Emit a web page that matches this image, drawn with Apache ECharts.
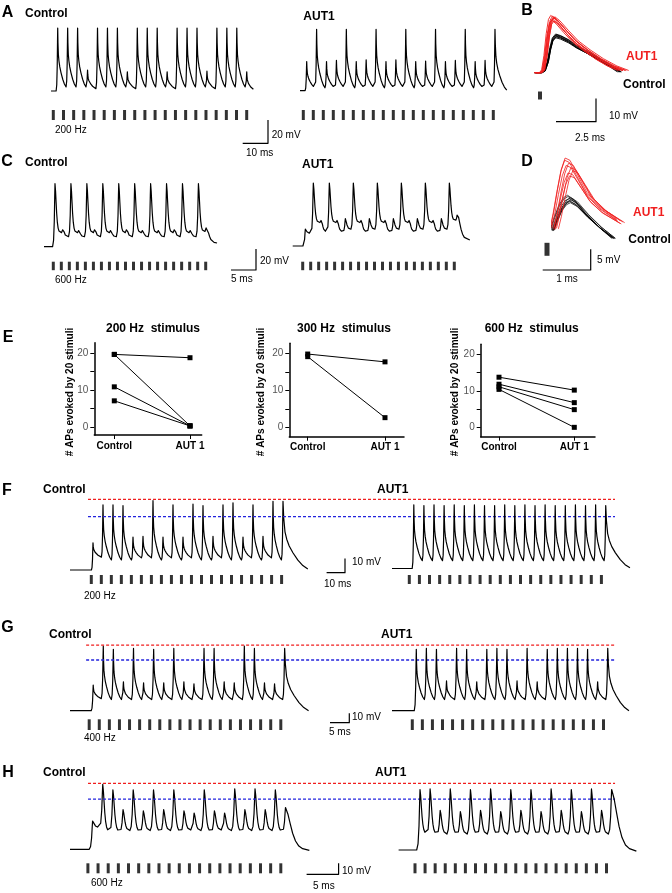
<!DOCTYPE html>
<html><head><meta charset="utf-8">
<script src="https://cdn.jsdelivr.net/npm/echarts@6/dist/echarts.min.js"></script>
<style>html,body{margin:0;padding:0;background:#fff}#c{width:672px;height:893px}</style>
</head><body><div id="c"></div>
<script>
// ================= DATA =================
const STIM_IDX = [0,1,2,3,4,5,6,7,8,9,10,11,12,13,14,15,16,17,18,19];

// timing arrays: [first peak (ms), period (ms), rise (ms), end (ms), end voltage (mV)]
const A_CTRL_TIME = [3.37, 5, 0.8, 101.7, 1.5];
const A_AUT_TIME  = [3.38, 5, 0.8, 104.3, 0.5];
const A_CTRL_PEAKS   = [54,54,54,18, 54,54,54,16.5, 54,54,54,16.5, 54,54,54,17, 54,54,54,16.5];
const A_CTRL_TROUGHS = [3.5,3.5,3.5,2, 3.5,3.5,3.5,2, 3.5,3.5,3.5,2, 3.5,3.5,3.5,2, 3.5,3.5,3.5,2];
const A_AUT_PEAKS    = [25,52.7,25,26, 52.7,25,26.5,52.7, 25,26.5,52.7,25, 25.5,52.7,25,26, 52.7,25,26,52.7];
const A_AUT_TROUGHS  = [2.5,2.5,2.5,2.5,2.5,2.5,2.5,2.5,2.5,2.5,2.5,2.5,2.5,2.5,2.5,2.5,2.5,2.5,2.5,2.5];

// Panel B single responses (time ms, fraction of peak)
const B_RED_T = [0, 0.35, 0.5, 0.65, 0.8, 0.95, 1.1, 1.4, 1.9, 2.5, 3.2, 4.0, 4.8, 5.5];
const B_RED_V = [0, 0, 0.05, 0.3, 0.68, 0.93, 1, 0.93, 0.76, 0.57, 0.41, 0.25, 0.12, 0.04];
const B_BLACK_T = [0, 0.4, 0.6, 0.8, 0.95, 1.1, 1.3, 1.6, 2.1, 2.6, 3.2, 4.0, 4.8, 5.3];
const B_BLACK_V = [0, 0, 0.05, 0.3, 0.65, 0.9, 1, 0.96, 0.85, 0.7, 0.56, 0.36, 0.16, 0.02];
const B_RED_PEAKS = [24.3, 23.5, 22.6, 24.0, 23.0, 22.2, 23.8, 24.6];
const B_RED_SHIFT = [0, 0.04, -0.04, 0.08, -0.02, 0.1, 0.03, -0.06];
const B_RED_STRETCH = [1, 1.03, 0.97, 1.05, 1.0, 0.98, 1.02, 0.95];
const B_BLACK_PEAKS = [16.0, 15.4, 15.0, 16.3, 15.7, 16.6];
const B_BLACK_SHIFT = [0, 0.05, -0.03, 0.02, 0.07, -0.05];
const B_BLACK_STRETCH = [1, 0.98, 1.02, 1.0, 0.96, 1.03];

const C_CTRL_TIME = [2.3, 1.667, 0.5, 36.2, 3.5];
const C_AUT_TIME  = [2.63, 1.667, 0.5, 36.9, 5.7];
const C_CTRL_PEAKS   = [60,17,60,16,60,17,60,16,60,17,60,16,60,16,60,17,60,16,60,19];
const C_CTRL_TROUGHS = [13,9.5,13,9.5,13,9.5,13,9.5,13,9.5,13,9.5,13,9.5,13,9.5,13,9.5,14,3.5];
const C_AUT_PEAKS    = [16,60,25,60,25,26,60,25,26,60,25,26,60,25,26,60,25,26,60,31];
const C_AUT_TROUGHS  = [12,22,13.6,22,13.6,16,22,13.6,16,22,13.6,16,22,13.6,16,22,13.6,16,24,5.7];

// Panel D (time ms, mV)
const D_BLACK_T = [0, 0.08, 0.18, 0.28, 0.36, 0.5, 0.73, 1.0, 1.28];
const D_BLACK_V = [2.4, 5, 7.8, 9.5, 10, 9, 6, 3, 0.4];
const D_RED_T = [0, 0.06, 0.14, 0.22, 0.3, 0.4, 0.55, 0.75, 1.0, 1.38];
const D_RED_V = [2.9, 6, 11, 15.5, 18, 17.5, 14.5, 10.5, 7.5, 4.5];
const D_BLACK_SCALE = [1, 0.93, 1.05, 0.9, 0.97, 1.08, 0.95, 1.02];
const D_BLACK_SHIFT = [0, 0.02, -0.02, 0.03, 0.05, -0.03, 0.01, 0.04];
const D_RED_SCALE = [1, 0.9, 1.07, 0.86, 0.97, 1.1, 0.93, 1.03];
const D_RED_SHIFT = [0, 0.04, -0.03, 0.07, 0.1, -0.02, 0.14, 0.05];

// Panel E
const E_CATS = ['Control', 'AUT 1'];
const E_Y_TICKS = [0, 5, 10, 15, 20];
const E_Y_LABELS = [0, 10, 20];
const E200_CTRL = [19.7, 19.7, 10.9, 7.1];
const E200_AUT  = [18.8, 0.3, 0.3, 0.3];
const E300_CTRL = [19.8, 19.1];
const E300_AUT  = [17.7, 2.7];
const E600_CTRL = [13.7, 11.8, 11.1, 10.4];
const E600_AUT  = [10.2, 6.8, 4.9, 0.1];

// Panels F, G, H
const F_CTRL_TIME = [11.5, 5, 0.8, 118.9, 0.7];
const F_AUT_TIME  = [10.8, 5, 0.8, 117.8, 0.5];
const F_CTRL_PEAKS   = [19,45.5,45.5,45,23,23.5,48.5,23,45.5,23,46,45,23.5,45.5,47,23,45.5,23.5,48,48];
const F_CTRL_TROUGHS = [9,7,7,7,8.5,8.5,7,8.5,7,8.5,7,7,8.5,7,7,8.5,7,8.5,7,0.7];
const F_AUT_PEAKS    = [44.5,44,44.5,44,44.5,44,44.5,44,44,44.5,44,44.5,44,44.5,44,44,44.5,44,44.5,44];
const F_AUT_TROUGHS  = [5.5,5.5,5.5,5.5,5.5,5.5,5.5,5.5,5.5,5.5,5.5,5.5,5.5,5.5,5.5,5.5,5.5,5.5,5.5,5.5];
const F_LEVELS = [49.4, 37.3];
const F_LEVEL_SPAN = [9, 272.5];

const G_CTRL_TIME = [5.76, 2.5, 0.5, 59.2, 0];
const G_AUT_TIME  = [6.03, 2.5, 0.5, 58.8, 0];
const G_CTRL_PEAKS   = [27.6,69.5,66,31,67,30,66,30,67,31,29,67,67,31,30,69.5,67,30,29,67];
const G_CTRL_TROUGHS = [13,12,12,12,12,12,12,12,12,12,12,12,12,12,12,12,12,12,12,0];
const G_AUT_PEAKS    = [66,67,66,32,67,66,31,66,67,66,32,67,31,66,67,67,67,66,31,67];
const G_AUT_TROUGHS  = [12,12,12,12,12,12,12,12,12,12,12,12,12,12,12,12,12,12,12,0];
const G_LEVELS = [70.6, 54.5];
const G_LEVEL_SPAN = [4, 135.2];

const H_CTRL_TIME = [3.71, 1.667, 0.55, 39.3, -1];
const H_AUT_TIME  = [3.54, 1.667, 0.55, 39.3, -1];
const H_CTRL_PEAKS   = [25.7,59,54,36,54,35,54,36,54,35,33,54,35,33,55,36,55,36,54,38];
const H_CTRL_TROUGHS = [20,16,16,17,16,17,16,17,16,17.5,17,16,17.5,17,16,17,16,17,16,-1];
const H_AUT_PEAKS    = [55,55.5,36,55.5,35,55,36,55.5,35,55,36,55,35,55.5,36,55,35,55.5,36,55];
const H_AUT_TROUGHS  = [14.5,14.5,14.5,14.5,14.5,14.5,14.5,14.5,14.5,14.5,14.5,14.5,14.5,14.5,14.5,14.5,14.5,14.5,14.5,-1];
const H_LEVELS = [60, 45.7];
const H_LEVEL_SPAN = [2.96, 89.5];

// shape templates [time fraction, amplitude fraction]
const RISE_SHAPE = [[0.4, 0.1], [0.7, 0.4], [0.88, 0.78]];
const DECAY_FAST = [[0.03,0.75],[0.08,0.55],[0.15,0.44],[0.25,0.34],[0.4,0.24],[0.6,0.13],[0.8,0.05],[1,0]];
const DECAY_ROUND = [[0.1,0.85],[0.2,0.62],[0.3,0.4],[0.42,0.22],[0.56,0.1],[0.72,0.04],[1,0]];

// ================= BUILD =================
const FONT = '"Liberation Sans", Arial, Helvetica, sans-serif';
const RED = '#f01e1e', BLUE = '#2222dd';
const grids = [], xAxes = [], yAxes = [], series = [], graphics = [];

function addGrid(left, top, width, height, xmin, xmax, ymin, ymax) {
  const i = grids.length;
  grids.push({left, top, width, height, containLabel: false, outerBoundsMode: 'none'});
  xAxes.push({type: 'value', gridIndex: i, min: xmin, max: xmax, show: false});
  yAxes.push({type: 'value', gridIndex: i, min: ymin, max: ymax, show: false});
  return i;
}
function traceGrid(x0, y0, pxMs, pxMv, tMax, vMin, vMax) {
  return addGrid(x0, y0 - vMax * pxMv, tMax * pxMs, (vMax - vMin) * pxMv, 0, tMax, vMin, vMax);
}
function line(g, data, color, width, dash) {
  series.push({type: 'line', xAxisIndex: g, yAxisIndex: g, data, symbol: 'none', clip: false,
    silent: true, animation: false,
    lineStyle: {color, width, join: 'round', type: dash || 'solid'}});
}
function buildTrace(tm, peaks, troughs, decay) {
  const [tFirst, period, rise, tEnd, vEnd] = tm;
  const pts = [[0, 0]];
  let pT = tFirst - rise, pV = 0;
  pts.push([pT, pV]);
  peaks.forEach((vp, i) => {
    const tp = tFirst + i * period;
    RISE_SHAPE.forEach(([f, gg]) => pts.push([pT + f * (tp - pT), pV + gg * (vp - pV)]));
    pts.push([tp, vp]);
    const last = i === peaks.length - 1;
    const tn = last ? tEnd : tp + period - rise;
    const vn = last ? vEnd : troughs[i];
    decay.forEach(([f, gg]) => pts.push([tp + f * (tn - tp), vn + gg * (vp - vn)]));
    pT = tn; pV = vn;
  });
  return pts;
}
function stimRow(firstX, lastX, top, h, w) {
  const g = addGrid(firstX, top, lastX - firstX, h, 0, 19, 0, 1);
  series.push({type: 'scatter', xAxisIndex: g, yAxisIndex: g, data: STIM_IDX.map(i => [i, 0.5]),
    symbol: 'rect', symbolSize: [w, h], itemStyle: {color: '#000'}, silent: true, clip: false, animation: false});
}
function singleStim(cx, cy, w, h) {
  const g = addGrid(cx - 1, cy - 1, 2, 2, 0, 1, 0, 1);
  series.push({type: 'scatter', xAxisIndex: g, yAxisIndex: g, data: [[0.5, 0.5]],
    symbol: 'rect', symbolSize: [w, h], itemStyle: {color: '#000'}, silent: true, clip: false, animation: false});
}
function scaleBar(cx, cy, wPx, hPx, ms, mv, lw) {
  const g = addGrid(cx - wPx, cy - hPx, wPx, hPx, 0, ms, 0, mv);
  line(g, [[0, 0], [ms, 0], [ms, mv]], '#000', lw || 1.2);
}
function txt(s, x, y, o) {
  o = o || {};
  graphics.push({type: 'text', x, y, rotation: o.rot || 0, silent: true,
    style: {text: s, fill: o.color || '#000', align: o.align || 'left', verticalAlign: 'middle',
      font: (o.bold ? 'bold ' : '') + (o.size || 10) + 'px ' + FONT}});
}

// ---- Panel A ----
let g;
g = traceGrid(51, 91, 1.99, 1.165, 106, -3, 58);
line(g, buildTrace(A_CTRL_TIME, A_CTRL_PEAKS, A_CTRL_TROUGHS, DECAY_FAST), '#000', 1.2);
g = traceGrid(300, 90.7, 1.982, 1.165, 106, -3, 58);
line(g, buildTrace(A_AUT_TIME, A_AUT_PEAKS, A_AUT_TROUGHS, DECAY_FAST), '#000', 1.2);
stimRow(53.3, 246.7, 110, 10, 3);
stimRow(303.3, 493.3, 110, 10, 3);
scaleBar(268, 143.3, 25.3, 23.3, 10, 20);

// ---- Panel B ----
g = traceGrid(535, 72.7, 16, 2.33, 6.5, -2, 27);
B_BLACK_PEAKS.forEach((pk, j) => {
  line(g, B_BLACK_T.map((t, k) => [B_BLACK_SHIFT[j] + t * B_BLACK_STRETCH[j], B_BLACK_V[k] * pk]), '#000', 0.9);
});
B_RED_PEAKS.forEach((pk, j) => {
  line(g, B_RED_T.map((t, k) => [B_RED_SHIFT[j] + t * B_RED_STRETCH[j], B_RED_V[k] * pk]), RED, 0.9);
});
singleStim(540, 95.5, 4, 8);
scaleBar(596, 121.7, 40, 23.3, 2.5, 10);

// ---- Panel C ----
g = traceGrid(44, 246.7, 4.78, 1.05, 38, -3, 62);
line(g, buildTrace(C_CTRL_TIME, C_CTRL_PEAKS, C_CTRL_TROUGHS, DECAY_ROUND), '#000', 1.2);
g = traceGrid(292.7, 246, 4.8, 1.05, 38, -3, 62);
line(g, buildTrace(C_AUT_TIME, C_AUT_PEAKS, C_AUT_TROUGHS, DECAY_ROUND), '#000', 1.2);
stimRow(53.3, 205.7, 261.7, 8.5, 3);
stimRow(302.7, 454.3, 261.7, 8.5, 3);
scaleBar(256, 270, 25, 21, 5, 20);

// ---- Panel D ----
g = traceGrid(551.7, 240, 48, 4.14, 1.7, -3, 22);
D_BLACK_SCALE.forEach((s, j) => {
  line(g, D_BLACK_T.map((t, k) => [D_BLACK_SHIFT[j] + t, D_BLACK_V[k] * s]), '#000', 0.7);
});
D_RED_SCALE.forEach((s, j) => {
  line(g, D_RED_T.map((t, k) => [D_RED_SHIFT[j] + t, D_RED_V[k] * s]), RED, 0.8);
});
singleStim(547, 249.3, 5, 13);
scaleBar(590.7, 270, 48, 20.7, 1, 5);

// ---- Panel E ----
function ePlot(axisX, y0, y20, topPx, botPx, ctrlX, autX, rightPx, ctrl, aut) {
  const i = grids.length;
  const py = (y0 - y20) / 20, px = autX - ctrlX;
  grids.push({left: axisX, top: topPx, width: rightPx - axisX, height: botPx - topPx, containLabel: false, outerBoundsMode: 'none'});
  xAxes.push({type: 'value', gridIndex: i, min: (axisX - ctrlX) / px, max: (rightPx - ctrlX) / px,
    axisLine: {show: true, onZero: false, lineStyle: {color: '#000', width: 1.5}},
    axisTick: {show: true, customValues: [0, 1], length: 4, lineStyle: {color: '#000', width: 1}},
    axisLabel: {show: true, customValues: [0, 1], formatter: v => E_CATS[Math.round(v)], fontWeight: 'bold',
      fontSize: 10, color: '#000', margin: 6, fontFamily: FONT},
    splitLine: {show: false}});
  yAxes.push({type: 'value', gridIndex: i, min: -(botPx - y0) / py, max: (y0 - topPx) / py,
    axisLine: {show: true, onZero: false, lineStyle: {color: '#000', width: 1.5}},
    axisTick: {show: true, customValues: E_Y_TICKS, length: 4, lineStyle: {color: '#000', width: 1}},
    axisLabel: {show: true, customValues: E_Y_LABELS, margin: 6, color: '#555', fontSize: 10, fontFamily: FONT},
    splitLine: {show: false}});
  ctrl.forEach((c, j) => {
    series.push({type: 'line', xAxisIndex: i, yAxisIndex: i, data: [[0, c], [1, aut[j]]], symbol: 'rect',
      symbolSize: 5, clip: false, silent: true, animation: false,
      itemStyle: {color: '#000'}, lineStyle: {color: '#000', width: 1}});
  });
}
ePlot(94.3, 427, 353.3, 342.7, 435, 114.3, 190, 201.7, E200_CTRL, E200_AUT);
ePlot(289.3, 427.7, 353.3, 343.3, 436.7, 307.7, 385, 404, E300_CTRL, E300_AUT);
ePlot(480.7, 427.7, 354, 344.3, 436.7, 499, 574.3, 595, E600_CTRL, E600_AUT);

// ---- Panel F ----
g = traceGrid(70, 570, 2.0, 1.43, 275, -3, 52);
line(g, buildTrace(F_CTRL_TIME, F_CTRL_PEAKS, F_CTRL_TROUGHS, DECAY_FAST), '#000', 1.2);
line(g, [[F_LEVEL_SPAN[0], F_LEVELS[0]], [F_LEVEL_SPAN[1], F_LEVELS[0]]], RED, 1.3, [3, 2]);
line(g, [[F_LEVEL_SPAN[0], F_LEVELS[1]], [F_LEVEL_SPAN[1], F_LEVELS[1]]], BLUE, 1.3, [3, 2]);
g = traceGrid(392, 568.5, 2.02, 1.43, 120, -3, 52);
line(g, buildTrace(F_AUT_TIME, F_AUT_PEAKS, F_AUT_TROUGHS, DECAY_FAST), '#000', 1.2);
stimRow(91.3, 281.6, 575, 9, 3);
stimRow(409.3, 601.4, 575, 9, 3);
scaleBar(345, 572.7, 18.4, 14.3, 10, 10);

// ---- Panel G ----
g = traceGrid(70, 710.7, 4.03, 0.93, 137, -3, 73);
line(g, buildTrace(G_CTRL_TIME, G_CTRL_PEAKS, G_CTRL_TROUGHS, DECAY_FAST), '#000', 1.2);
line(g, [[G_LEVEL_SPAN[0], G_LEVELS[0]], [G_LEVEL_SPAN[1], G_LEVELS[0]]], RED, 1.3, [3, 2]);
line(g, [[G_LEVEL_SPAN[0], G_LEVELS[1]], [G_LEVEL_SPAN[1], G_LEVELS[1]]], BLUE, 1.3, [3, 2]);
g = traceGrid(392, 710.7, 4.03, 0.93, 60, -3, 73);
line(g, buildTrace(G_AUT_TIME, G_AUT_PEAKS, G_AUT_TROUGHS, DECAY_FAST), '#000', 1.2);
stimRow(89.2, 280.8, 719.3, 10.7, 3);
stimRow(412.3, 603.5, 719.3, 10.7, 3);
scaleBar(349.3, 722.7, 19.3, 9.4, 5, 10);

// ---- Panel H ----
g = traceGrid(70, 849.3, 6.09, 1.1, 91, -3, 63);
line(g, buildTrace(H_CTRL_TIME, H_CTRL_PEAKS, H_CTRL_TROUGHS, DECAY_ROUND), '#000', 1.2);
line(g, [[H_LEVEL_SPAN[0], H_LEVELS[0]], [H_LEVEL_SPAN[1], H_LEVELS[0]]], RED, 1.3, [3, 2]);
line(g, [[H_LEVEL_SPAN[0], H_LEVELS[1]], [H_LEVEL_SPAN[1], H_LEVELS[1]]], BLUE, 1.3, [3, 2]);
g = traceGrid(398.6, 850, 6.05, 1.1, 41, -3, 63);
line(g, buildTrace(H_AUT_TIME, H_AUT_PEAKS, H_AUT_TROUGHS, DECAY_ROUND), '#000', 1.2);
stimRow(87.9, 280.8, 863.3, 10, 3);
stimRow(415, 606.5, 863.3, 10, 3);
scaleBar(338.6, 874.3, 32, 11, 5, 10);

// ---- Texts ----
[['A', 7.5, 12.5], ['B', 527, 11], ['C', 7, 161.7], ['D', 527, 161.5], ['E', 8, 338],
 ['F', 7, 491], ['G', 7.5, 627.5], ['H', 8, 773]].forEach(([s, x, y]) => txt(s, x, y, {bold: true, size: 16, align: 'center'}));
[['Control', 25, 13.8], ['AUT1', 303.3, 17], ['Control', 25, 162.5], ['AUT1', 302, 165],
 ['Control', 623, 85], ['Control', 628.3, 240],
 ['Control', 43, 490], ['AUT1', 377, 490], ['Control', 49, 635], ['AUT1', 381, 635],
 ['Control', 43, 773], ['AUT1', 375, 773]].forEach(([s, x, y]) => txt(s, x, y, {bold: true, size: 12}));
txt('AUT1', 626, 57, {bold: true, size: 12, color: RED});
txt('AUT1', 633, 212.3, {bold: true, size: 12, color: RED});
[['200 Hz', 55, 130], ['20 mV', 271.7, 135], ['10 ms', 246, 153.3],
 ['10 mV', 609, 116], ['600 Hz', 55, 280], ['20 mV', 260, 261], ['5 ms', 231, 279.3],
 ['5 mV', 597, 260.3],
 ['10 mV', 352, 562], ['10 ms', 324, 584.3], ['200 Hz', 84, 596.7],
 ['10 mV', 352, 717.7], ['5 ms', 329, 732.7], ['400 Hz', 84, 738.3],
 ['10 mV', 342, 871.7], ['5 ms', 313, 886.7], ['600 Hz', 91, 883.3]].forEach(([s, x, y]) => txt(s, x, y, {size: 10}));
txt('2.5 ms', 590, 138.3, {size: 10, align: 'center'});
txt('1 ms', 567, 279.3, {size: 10, align: 'center'});
[['200 Hz  stimulus', 153, 329], ['300 Hz  stimulus', 344, 329], ['600 Hz  stimulus', 531.7, 329]]
  .forEach(([s, x, y]) => txt(s, x, y, {bold: true, size: 12, align: 'center'}));
[70, 261.7, 455].forEach(x => txt('# APs evoked by 20 stimuli', x, 392, {bold: true, size: 10, align: 'center', rot: Math.PI / 2}));

const chart = echarts.init(document.getElementById('c'), null, {renderer: 'canvas', width: 672, height: 893});
chart.setOption({animation: false, backgroundColor: '#fff', grid: grids, xAxis: xAxes, yAxis: yAxes, series, graphic: graphics});
</script></body></html>
